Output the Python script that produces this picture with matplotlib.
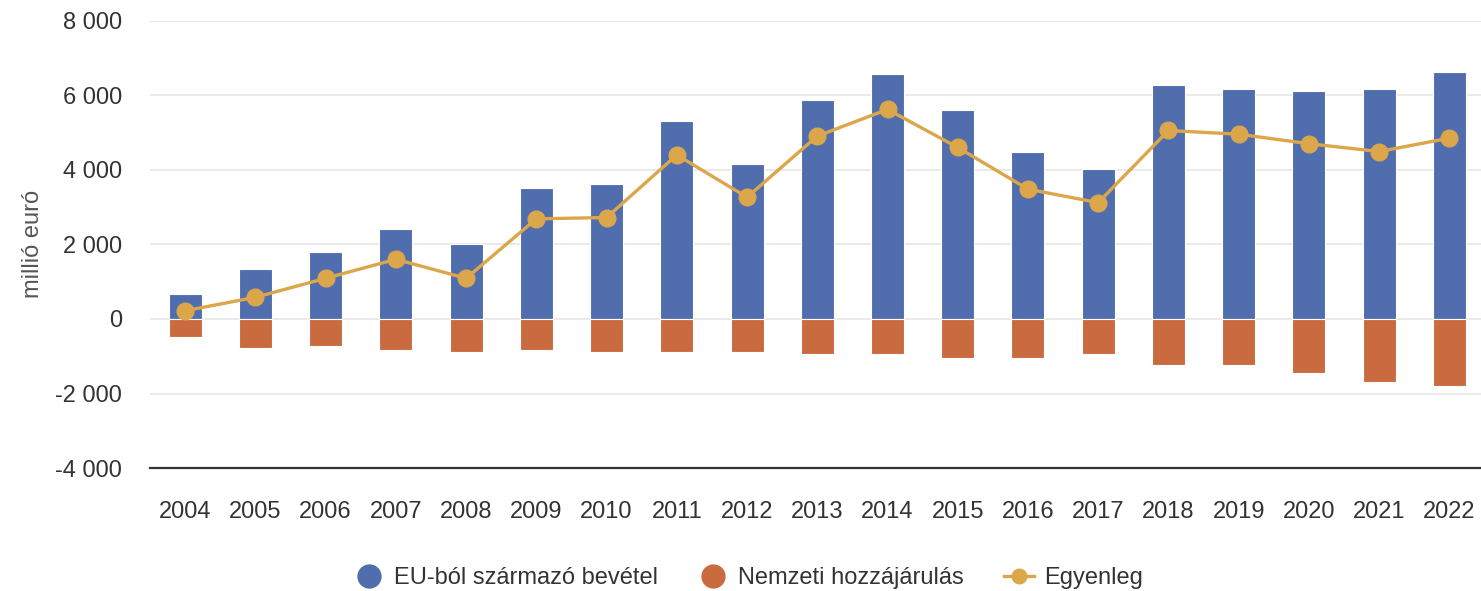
import matplotlib
matplotlib.use("Agg")
import matplotlib.pyplot as plt
from matplotlib.lines import Line2D
from matplotlib.ticker import FuncFormatter
import numpy as np

# millió euró
years = ["2004", "2005", "2006", "2007", "2008", "2009", "2010", "2011", "2012", "2013",
         "2014", "2015", "2016", "2017", "2018", "2019", "2020", "2021", "2022"]
eu_income = [680, 1340, 1790, 2415, 2005, 3525, 3630, 5305, 4145, 5870,
             6575, 5610, 4490, 4035, 6275, 6175, 6120, 6175, 6630]
national = [-480, -785, -735, -830, -885, -830, -885, -885, -885, -940,
            -940, -1045, -1045, -940, -1245, -1245, -1450, -1700, -1805]
balance = [220, 580, 1090, 1600, 1090, 2685, 2720, 4400, 3265, 4905,
           5620, 4600, 3480, 3120, 5055, 4955, 4700, 4490, 4850]

BLUE = "#506eae"
ORANGE = "#ca6b3f"
GOLD = "#dca64a"
TEXT = "#333333"
FS = 17

plt.rcParams.update({
    "font.family": ["Liberation Sans", "DejaVu Sans"],
    "font.size": FS,
    "text.color": TEXT,
    "xtick.color": TEXT,
    "ytick.color": TEXT,
})

fig = plt.figure(figsize=(14.81, 5.91), dpi=100)
ax = fig.add_axes([0.1013, 0.208, 0.8987, 0.757])

x = np.arange(len(years))
w = 0.47
ax.bar(x, eu_income, width=w, color=BLUE, edgecolor="white", linewidth=0.8, zorder=2)
ax.bar(x, national, width=w, color=ORANGE, edgecolor="white", linewidth=0.8, zorder=2)
ax.plot(x, balance, color=GOLD, linewidth=2.4, marker="o", markersize=12,
        zorder=3)

ax.set_ylim(-4000, 8000)
ax.set_xlim(-0.5, 18.45)
ax.set_yticks(np.arange(-4000, 8001, 2000))
ax.yaxis.set_major_formatter(
    FuncFormatter(lambda v, _: f"{int(v):,}".replace(",", " ")))
ax.set_xticks(x)
ax.set_xticklabels(years)
ax.tick_params(axis="both", length=0, labelsize=FS)
ax.tick_params(axis="y", pad=20)
ax.tick_params(axis="x", pad=24)

for s in ["top", "right", "left"]:
    ax.spines[s].set_visible(False)
ax.spines["bottom"].set_color("#333333")
ax.spines["bottom"].set_linewidth(1.6)
ax.spines["bottom"].set_zorder(4)

ax.grid(axis="y", color="#e4e4e4", linewidth=1.1, zorder=0)
ax.set_axisbelow(True)

ax.set_ylabel("millió euró", color="#555555", fontsize=FS, labelpad=8)

handles = [
    Line2D([], [], linestyle="none", marker="o", markersize=16.5, color=BLUE),
    Line2D([], [], linestyle="none", marker="o", markersize=16.5, color=ORANGE),
    Line2D([], [], color=GOLD, linewidth=2.4, marker="o", markersize=10.5),
]
labels = ["EU-ból származó bevétel", "Nemzeti hozzájárulás", "Egyenleg"]
fig.legend(handles, labels, loc="center", bbox_to_anchor=(0.5054, 0.022),
           ncol=3, frameon=False, fontsize=FS, handlelength=1.27,
           handletextpad=0.42, columnspacing=1.7)

fig.savefig("out.png", dpi=100)
